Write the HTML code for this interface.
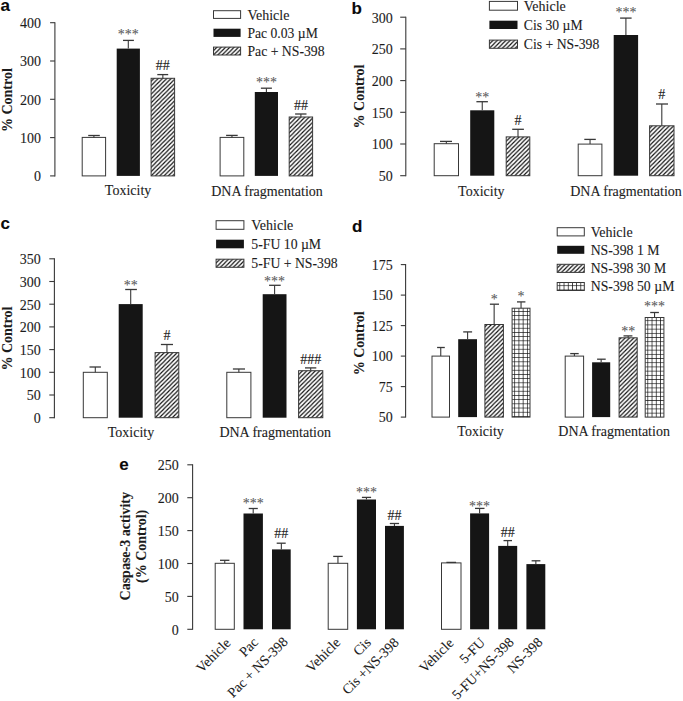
<!DOCTYPE html>
<html><head><meta charset="utf-8"><style>
html,body{margin:0;padding:0;background:#fff;width:683px;height:701px;overflow:hidden;}
svg{display:block;font-family:"Liberation Serif", serif;}
</style></head><body>
<svg width="683" height="701" viewBox="0 0 683 701">
<text x="0.60" y="10.60" font-size="17" text-anchor="start" font-weight="bold" font-family="'Liberation Sans', sans-serif" fill="#0a0a0a" stroke="#0a0a0a" stroke-width="0.1">a</text>
<line x1="54.90" y1="22.20" x2="54.90" y2="176.40" stroke="#383838" stroke-width="1.1"/>
<line x1="50.10" y1="175.90" x2="54.90" y2="175.90" stroke="#383838" stroke-width="1.1"/>
<text x="41.00" y="181.20" font-size="14" text-anchor="end" font-weight="normal" font-family="'Liberation Serif', serif" fill="#1c1c1c" stroke="#1c1c1c" stroke-width="0.1">0</text>
<line x1="50.10" y1="137.60" x2="54.90" y2="137.60" stroke="#383838" stroke-width="1.1"/>
<text x="41.00" y="142.90" font-size="14" text-anchor="end" font-weight="normal" font-family="'Liberation Serif', serif" fill="#1c1c1c" stroke="#1c1c1c" stroke-width="0.1">100</text>
<line x1="50.10" y1="99.30" x2="54.90" y2="99.30" stroke="#383838" stroke-width="1.1"/>
<text x="41.00" y="104.60" font-size="14" text-anchor="end" font-weight="normal" font-family="'Liberation Serif', serif" fill="#1c1c1c" stroke="#1c1c1c" stroke-width="0.1">200</text>
<line x1="50.10" y1="61.00" x2="54.90" y2="61.00" stroke="#383838" stroke-width="1.1"/>
<text x="41.00" y="66.30" font-size="14" text-anchor="end" font-weight="normal" font-family="'Liberation Serif', serif" fill="#1c1c1c" stroke="#1c1c1c" stroke-width="0.1">300</text>
<line x1="50.10" y1="22.70" x2="54.90" y2="22.70" stroke="#383838" stroke-width="1.1"/>
<text x="41.00" y="28.00" font-size="14" text-anchor="end" font-weight="normal" font-family="'Liberation Serif', serif" fill="#1c1c1c" stroke="#1c1c1c" stroke-width="0.1">400</text>
<text transform="translate(11.60,100.10) rotate(-90)" text-anchor="middle" font-size="14" font-weight="bold" font-family="'Liberation Serif', serif" fill="#1c1c1c" stroke="#1c1c1c" stroke-width="0.1">% Control</text>
<rect x="82.20" y="137.40" width="23.40" height="38.50" fill="#fff" stroke="#383838" stroke-width="1.0"/>
<line x1="93.90" y1="137.40" x2="93.90" y2="135.50" stroke="#383838" stroke-width="1.1"/>
<line x1="88.20" y1="135.50" x2="99.80" y2="135.50" stroke="#383838" stroke-width="1.3"/>
<rect x="116.70" y="48.60" width="23.20" height="127.30" fill="#151515"/>
<line x1="128.30" y1="48.60" x2="128.30" y2="40.40" stroke="#383838" stroke-width="1.1"/>
<line x1="123.00" y1="40.40" x2="133.90" y2="40.40" stroke="#383838" stroke-width="1.3"/>
<text x="128.30" y="39.20" font-size="14" text-anchor="middle" font-weight="normal" font-family="'Liberation Serif', serif" fill="#5a5a5a" stroke="#5a5a5a" stroke-width="0.1">***</text>
<defs><pattern id="h1" patternUnits="userSpaceOnUse" x="151.10" y="175.90" width="4.3" height="4.3"><rect width="4.3" height="4.3" fill="#fff"/><path d="M-4.3 4.3L4.3 -4.3M0 4.3L4.3 0M0 8.6L8.6 0" stroke="#0c0c0c" stroke-width="1.15"/></pattern></defs>
<rect x="151.10" y="78.30" width="23.50" height="97.60" fill="url(#h1)" stroke="#383838" stroke-width="1.0"/>
<line x1="162.85" y1="78.30" x2="162.85" y2="74.60" stroke="#383838" stroke-width="1.1"/>
<line x1="157.30" y1="74.60" x2="168.20" y2="74.60" stroke="#383838" stroke-width="1.3"/>
<text x="162.85" y="70.00" font-size="14" text-anchor="middle" font-weight="normal" font-family="'Liberation Serif', serif" fill="#1c1c1c" stroke="#1c1c1c" stroke-width="0.1">##</text>
<rect x="220.10" y="137.40" width="23.70" height="38.50" fill="#fff" stroke="#383838" stroke-width="1.0"/>
<line x1="231.95" y1="137.40" x2="231.95" y2="135.40" stroke="#383838" stroke-width="1.1"/>
<line x1="226.10" y1="135.40" x2="237.70" y2="135.40" stroke="#383838" stroke-width="1.3"/>
<rect x="254.80" y="92.00" width="23.20" height="83.90" fill="#151515"/>
<line x1="266.40" y1="92.00" x2="266.40" y2="88.20" stroke="#383838" stroke-width="1.1"/>
<line x1="260.90" y1="88.20" x2="271.90" y2="88.20" stroke="#383838" stroke-width="1.3"/>
<text x="266.40" y="86.70" font-size="14" text-anchor="middle" font-weight="normal" font-family="'Liberation Serif', serif" fill="#5a5a5a" stroke="#5a5a5a" stroke-width="0.1">***</text>
<defs><pattern id="h2" patternUnits="userSpaceOnUse" x="289.20" y="175.90" width="4.3" height="4.3"><rect width="4.3" height="4.3" fill="#fff"/><path d="M-4.3 4.3L4.3 -4.3M0 4.3L4.3 0M0 8.6L8.6 0" stroke="#0c0c0c" stroke-width="1.15"/></pattern></defs>
<rect x="289.20" y="117.00" width="23.40" height="58.90" fill="url(#h2)" stroke="#383838" stroke-width="1.0"/>
<line x1="300.90" y1="117.00" x2="300.90" y2="114.00" stroke="#383838" stroke-width="1.1"/>
<line x1="295.10" y1="114.00" x2="306.50" y2="114.00" stroke="#383838" stroke-width="1.3"/>
<text x="300.90" y="109.70" font-size="14" text-anchor="middle" font-weight="normal" font-family="'Liberation Serif', serif" fill="#1c1c1c" stroke="#1c1c1c" stroke-width="0.1">##</text>
<text x="128.05" y="195.40" font-size="14" text-anchor="middle" font-weight="normal" font-family="'Liberation Serif', serif" fill="#1c1c1c" stroke="#1c1c1c" stroke-width="0.1">Toxicity</text>
<text x="267.00" y="195.60" font-size="14" text-anchor="middle" font-weight="normal" font-family="'Liberation Serif', serif" fill="#1c1c1c" stroke="#1c1c1c" stroke-width="0.1">DNA fragmentation</text>
<rect x="213.50" y="10.70" width="27.10" height="7.70" fill="#fff" stroke="#383838" stroke-width="1.0"/>
<text x="247.40" y="19.50" font-size="14" text-anchor="start" font-weight="normal" font-family="'Liberation Serif', serif" fill="#1c1c1c" stroke="#1c1c1c" stroke-width="0.1">Vehicle</text>
<rect x="213.50" y="28.70" width="27.10" height="8.20" fill="#151515"/>
<text x="247.40" y="37.90" font-size="14" text-anchor="start" font-weight="normal" font-family="'Liberation Serif', serif" fill="#1c1c1c" stroke="#1c1c1c" stroke-width="0.1" textLength="70.50" lengthAdjust="spacingAndGlyphs">Pac 0.03 µM</text>
<defs><pattern id="h3" patternUnits="userSpaceOnUse" x="213.50" y="55.00" width="4.3" height="4.3"><rect width="4.3" height="4.3" fill="#fff"/><path d="M-4.3 4.3L4.3 -4.3M0 4.3L4.3 0M0 8.6L8.6 0" stroke="#0c0c0c" stroke-width="1.15"/></pattern></defs>
<rect x="213.50" y="47.10" width="27.10" height="7.90" fill="url(#h3)" stroke="#383838" stroke-width="1.0"/>
<text x="247.40" y="56.00" font-size="14" text-anchor="start" font-weight="normal" font-family="'Liberation Serif', serif" fill="#1c1c1c" stroke="#1c1c1c" stroke-width="0.1" textLength="77.20" lengthAdjust="spacingAndGlyphs">Pac + NS-398</text>
<text x="351.40" y="13.60" font-size="17" text-anchor="start" font-weight="bold" font-family="'Liberation Sans', sans-serif" fill="#0a0a0a" stroke="#0a0a0a" stroke-width="0.1">b</text>
<line x1="405.80" y1="16.70" x2="405.80" y2="176.20" stroke="#383838" stroke-width="1.1"/>
<line x1="400.20" y1="175.70" x2="405.80" y2="175.70" stroke="#383838" stroke-width="1.1"/>
<text x="392.80" y="181.00" font-size="14" text-anchor="end" font-weight="normal" font-family="'Liberation Serif', serif" fill="#1c1c1c" stroke="#1c1c1c" stroke-width="0.1">50</text>
<line x1="400.20" y1="144.00" x2="405.80" y2="144.00" stroke="#383838" stroke-width="1.1"/>
<text x="392.80" y="149.30" font-size="14" text-anchor="end" font-weight="normal" font-family="'Liberation Serif', serif" fill="#1c1c1c" stroke="#1c1c1c" stroke-width="0.1">100</text>
<line x1="400.20" y1="112.30" x2="405.80" y2="112.30" stroke="#383838" stroke-width="1.1"/>
<text x="392.80" y="117.60" font-size="14" text-anchor="end" font-weight="normal" font-family="'Liberation Serif', serif" fill="#1c1c1c" stroke="#1c1c1c" stroke-width="0.1">150</text>
<line x1="400.20" y1="80.60" x2="405.80" y2="80.60" stroke="#383838" stroke-width="1.1"/>
<text x="392.80" y="85.90" font-size="14" text-anchor="end" font-weight="normal" font-family="'Liberation Serif', serif" fill="#1c1c1c" stroke="#1c1c1c" stroke-width="0.1">200</text>
<line x1="400.20" y1="48.90" x2="405.80" y2="48.90" stroke="#383838" stroke-width="1.1"/>
<text x="392.80" y="54.20" font-size="14" text-anchor="end" font-weight="normal" font-family="'Liberation Serif', serif" fill="#1c1c1c" stroke="#1c1c1c" stroke-width="0.1">250</text>
<line x1="400.20" y1="17.20" x2="405.80" y2="17.20" stroke="#383838" stroke-width="1.1"/>
<text x="392.80" y="22.50" font-size="14" text-anchor="end" font-weight="normal" font-family="'Liberation Serif', serif" fill="#1c1c1c" stroke="#1c1c1c" stroke-width="0.1">300</text>
<text transform="translate(363.80,96.50) rotate(-90)" text-anchor="middle" font-size="14" font-weight="bold" font-family="'Liberation Serif', serif" fill="#1c1c1c" stroke="#1c1c1c" stroke-width="0.1">% Control</text>
<rect x="434.20" y="143.70" width="24.30" height="32.00" fill="#fff" stroke="#383838" stroke-width="1.0"/>
<line x1="446.35" y1="143.70" x2="446.35" y2="141.40" stroke="#383838" stroke-width="1.1"/>
<line x1="440.00" y1="141.40" x2="452.00" y2="141.40" stroke="#383838" stroke-width="1.3"/>
<rect x="470.20" y="110.30" width="24.10" height="65.40" fill="#151515"/>
<line x1="482.25" y1="110.30" x2="482.25" y2="101.70" stroke="#383838" stroke-width="1.1"/>
<line x1="476.40" y1="101.70" x2="487.90" y2="101.70" stroke="#383838" stroke-width="1.3"/>
<text x="482.25" y="102.30" font-size="14" text-anchor="middle" font-weight="normal" font-family="'Liberation Serif', serif" fill="#5a5a5a" stroke="#5a5a5a" stroke-width="0.1">**</text>
<defs><pattern id="h4" patternUnits="userSpaceOnUse" x="506.20" y="175.70" width="4.3" height="4.3"><rect width="4.3" height="4.3" fill="#fff"/><path d="M-4.3 4.3L4.3 -4.3M0 4.3L4.3 0M0 8.6L8.6 0" stroke="#0c0c0c" stroke-width="1.15"/></pattern></defs>
<rect x="506.20" y="136.90" width="23.60" height="38.80" fill="url(#h4)" stroke="#383838" stroke-width="1.0"/>
<line x1="518.00" y1="136.90" x2="518.00" y2="129.30" stroke="#383838" stroke-width="1.1"/>
<line x1="512.20" y1="129.30" x2="523.90" y2="129.30" stroke="#383838" stroke-width="1.3"/>
<text x="518.00" y="124.60" font-size="14" text-anchor="middle" font-weight="normal" font-family="'Liberation Serif', serif" fill="#1c1c1c" stroke="#1c1c1c" stroke-width="0.1">#</text>
<rect x="578.20" y="144.10" width="23.70" height="31.60" fill="#fff" stroke="#383838" stroke-width="1.0"/>
<line x1="590.05" y1="144.10" x2="590.05" y2="139.40" stroke="#383838" stroke-width="1.1"/>
<line x1="584.30" y1="139.40" x2="595.80" y2="139.40" stroke="#383838" stroke-width="1.3"/>
<rect x="613.70" y="35.00" width="24.40" height="140.70" fill="#151515"/>
<line x1="625.90" y1="35.00" x2="625.90" y2="18.10" stroke="#383838" stroke-width="1.1"/>
<line x1="620.10" y1="18.10" x2="631.60" y2="18.10" stroke="#383838" stroke-width="1.3"/>
<text x="625.90" y="17.20" font-size="14" text-anchor="middle" font-weight="normal" font-family="'Liberation Serif', serif" fill="#5a5a5a" stroke="#5a5a5a" stroke-width="0.1">***</text>
<defs><pattern id="h5" patternUnits="userSpaceOnUse" x="649.60" y="175.70" width="4.3" height="4.3"><rect width="4.3" height="4.3" fill="#fff"/><path d="M-4.3 4.3L4.3 -4.3M0 4.3L4.3 0M0 8.6L8.6 0" stroke="#0c0c0c" stroke-width="1.15"/></pattern></defs>
<rect x="649.60" y="125.80" width="24.40" height="49.90" fill="url(#h5)" stroke="#383838" stroke-width="1.0"/>
<line x1="661.80" y1="125.80" x2="661.80" y2="104.00" stroke="#383838" stroke-width="1.1"/>
<line x1="656.00" y1="104.00" x2="668.00" y2="104.00" stroke="#383838" stroke-width="1.3"/>
<text x="661.80" y="99.00" font-size="14" text-anchor="middle" font-weight="normal" font-family="'Liberation Serif', serif" fill="#1c1c1c" stroke="#1c1c1c" stroke-width="0.1">#</text>
<text x="481.35" y="195.60" font-size="14" text-anchor="middle" font-weight="normal" font-family="'Liberation Serif', serif" fill="#1c1c1c" stroke="#1c1c1c" stroke-width="0.1">Toxicity</text>
<text x="626.00" y="195.50" font-size="14" text-anchor="middle" font-weight="normal" font-family="'Liberation Serif', serif" fill="#1c1c1c" stroke="#1c1c1c" stroke-width="0.1">DNA fragmentation</text>
<rect x="489.40" y="1.40" width="28.10" height="8.80" fill="#fff" stroke="#383838" stroke-width="1.0"/>
<text x="523.80" y="10.50" font-size="14" text-anchor="start" font-weight="normal" font-family="'Liberation Serif', serif" fill="#1c1c1c" stroke="#1c1c1c" stroke-width="0.1">Vehicle</text>
<rect x="489.40" y="20.70" width="28.10" height="8.30" fill="#151515"/>
<text x="523.80" y="30.20" font-size="14" text-anchor="start" font-weight="normal" font-family="'Liberation Serif', serif" fill="#1c1c1c" stroke="#1c1c1c" stroke-width="0.1" textLength="58.80" lengthAdjust="spacingAndGlyphs">Cis 30 µM</text>
<defs><pattern id="h6" patternUnits="userSpaceOnUse" x="489.40" y="48.30" width="4.3" height="4.3"><rect width="4.3" height="4.3" fill="#fff"/><path d="M-4.3 4.3L4.3 -4.3M0 4.3L4.3 0M0 8.6L8.6 0" stroke="#0c0c0c" stroke-width="1.15"/></pattern></defs>
<rect x="489.40" y="40.10" width="28.10" height="8.20" fill="url(#h6)" stroke="#383838" stroke-width="1.0"/>
<text x="523.80" y="48.90" font-size="14" text-anchor="start" font-weight="normal" font-family="'Liberation Serif', serif" fill="#1c1c1c" stroke="#1c1c1c" stroke-width="0.1" textLength="75.50" lengthAdjust="spacingAndGlyphs">Cis + NS-398</text>
<text x="0.40" y="229.00" font-size="17" text-anchor="start" font-weight="bold" font-family="'Liberation Sans', sans-serif" fill="#0a0a0a" stroke="#0a0a0a" stroke-width="0.1">c</text>
<line x1="54.40" y1="258.30" x2="54.40" y2="418.20" stroke="#383838" stroke-width="1.1"/>
<line x1="49.30" y1="417.70" x2="54.40" y2="417.70" stroke="#383838" stroke-width="1.1"/>
<text x="40.80" y="423.00" font-size="14" text-anchor="end" font-weight="normal" font-family="'Liberation Serif', serif" fill="#1c1c1c" stroke="#1c1c1c" stroke-width="0.1">0</text>
<line x1="49.30" y1="395.00" x2="54.40" y2="395.00" stroke="#383838" stroke-width="1.1"/>
<text x="40.80" y="400.30" font-size="14" text-anchor="end" font-weight="normal" font-family="'Liberation Serif', serif" fill="#1c1c1c" stroke="#1c1c1c" stroke-width="0.1">50</text>
<line x1="49.30" y1="372.30" x2="54.40" y2="372.30" stroke="#383838" stroke-width="1.1"/>
<text x="40.80" y="377.60" font-size="14" text-anchor="end" font-weight="normal" font-family="'Liberation Serif', serif" fill="#1c1c1c" stroke="#1c1c1c" stroke-width="0.1">100</text>
<line x1="49.30" y1="349.60" x2="54.40" y2="349.60" stroke="#383838" stroke-width="1.1"/>
<text x="40.80" y="354.90" font-size="14" text-anchor="end" font-weight="normal" font-family="'Liberation Serif', serif" fill="#1c1c1c" stroke="#1c1c1c" stroke-width="0.1">150</text>
<line x1="49.30" y1="326.90" x2="54.40" y2="326.90" stroke="#383838" stroke-width="1.1"/>
<text x="40.80" y="332.20" font-size="14" text-anchor="end" font-weight="normal" font-family="'Liberation Serif', serif" fill="#1c1c1c" stroke="#1c1c1c" stroke-width="0.1">200</text>
<line x1="49.30" y1="304.20" x2="54.40" y2="304.20" stroke="#383838" stroke-width="1.1"/>
<text x="40.80" y="309.50" font-size="14" text-anchor="end" font-weight="normal" font-family="'Liberation Serif', serif" fill="#1c1c1c" stroke="#1c1c1c" stroke-width="0.1">250</text>
<line x1="49.30" y1="281.50" x2="54.40" y2="281.50" stroke="#383838" stroke-width="1.1"/>
<text x="40.80" y="286.80" font-size="14" text-anchor="end" font-weight="normal" font-family="'Liberation Serif', serif" fill="#1c1c1c" stroke="#1c1c1c" stroke-width="0.1">300</text>
<line x1="49.30" y1="258.80" x2="54.40" y2="258.80" stroke="#383838" stroke-width="1.1"/>
<text x="40.80" y="264.10" font-size="14" text-anchor="end" font-weight="normal" font-family="'Liberation Serif', serif" fill="#1c1c1c" stroke="#1c1c1c" stroke-width="0.1">350</text>
<text transform="translate(11.60,338.60) rotate(-90)" text-anchor="middle" font-size="14" font-weight="bold" font-family="'Liberation Serif', serif" fill="#1c1c1c" stroke="#1c1c1c" stroke-width="0.1">% Control</text>
<rect x="83.30" y="372.30" width="24.00" height="45.40" fill="#fff" stroke="#383838" stroke-width="1.0"/>
<line x1="95.30" y1="372.30" x2="95.30" y2="367.00" stroke="#383838" stroke-width="1.1"/>
<line x1="89.50" y1="367.00" x2="100.90" y2="367.00" stroke="#383838" stroke-width="1.3"/>
<rect x="118.70" y="304.10" width="24.00" height="113.60" fill="#151515"/>
<line x1="130.70" y1="304.10" x2="130.70" y2="289.50" stroke="#383838" stroke-width="1.1"/>
<line x1="125.20" y1="289.50" x2="136.90" y2="289.50" stroke="#383838" stroke-width="1.3"/>
<text x="130.70" y="290.30" font-size="14" text-anchor="middle" font-weight="normal" font-family="'Liberation Serif', serif" fill="#5a5a5a" stroke="#5a5a5a" stroke-width="0.1">**</text>
<defs><pattern id="h7" patternUnits="userSpaceOnUse" x="155.10" y="417.70" width="4.3" height="4.3"><rect width="4.3" height="4.3" fill="#fff"/><path d="M-4.3 4.3L4.3 -4.3M0 4.3L4.3 0M0 8.6L8.6 0" stroke="#0c0c0c" stroke-width="1.15"/></pattern></defs>
<rect x="155.10" y="352.60" width="23.70" height="65.10" fill="url(#h7)" stroke="#383838" stroke-width="1.0"/>
<line x1="166.95" y1="352.60" x2="166.95" y2="344.50" stroke="#383838" stroke-width="1.1"/>
<line x1="160.90" y1="344.50" x2="173.00" y2="344.50" stroke="#383838" stroke-width="1.3"/>
<text x="166.95" y="339.80" font-size="14" text-anchor="middle" font-weight="normal" font-family="'Liberation Serif', serif" fill="#1c1c1c" stroke="#1c1c1c" stroke-width="0.1">#</text>
<rect x="226.80" y="372.30" width="24.10" height="45.40" fill="#fff" stroke="#383838" stroke-width="1.0"/>
<line x1="238.85" y1="372.30" x2="238.85" y2="369.00" stroke="#383838" stroke-width="1.1"/>
<line x1="232.90" y1="369.00" x2="245.00" y2="369.00" stroke="#383838" stroke-width="1.3"/>
<rect x="262.70" y="294.20" width="23.80" height="123.50" fill="#151515"/>
<line x1="274.60" y1="294.20" x2="274.60" y2="285.30" stroke="#383838" stroke-width="1.1"/>
<line x1="269.10" y1="285.30" x2="280.70" y2="285.30" stroke="#383838" stroke-width="1.3"/>
<text x="274.60" y="285.50" font-size="14" text-anchor="middle" font-weight="normal" font-family="'Liberation Serif', serif" fill="#5a5a5a" stroke="#5a5a5a" stroke-width="0.1">***</text>
<defs><pattern id="h8" patternUnits="userSpaceOnUse" x="298.60" y="417.70" width="4.3" height="4.3"><rect width="4.3" height="4.3" fill="#fff"/><path d="M-4.3 4.3L4.3 -4.3M0 4.3L4.3 0M0 8.6L8.6 0" stroke="#0c0c0c" stroke-width="1.15"/></pattern></defs>
<rect x="298.60" y="370.70" width="24.20" height="47.00" fill="url(#h8)" stroke="#383838" stroke-width="1.0"/>
<line x1="310.70" y1="370.70" x2="310.70" y2="367.90" stroke="#383838" stroke-width="1.1"/>
<line x1="305.00" y1="367.90" x2="316.30" y2="367.90" stroke="#383838" stroke-width="1.3"/>
<text x="310.70" y="363.50" font-size="14" text-anchor="middle" font-weight="normal" font-family="'Liberation Serif', serif" fill="#1c1c1c" stroke="#1c1c1c" stroke-width="0.1">###</text>
<text x="131.00" y="436.50" font-size="14" text-anchor="middle" font-weight="normal" font-family="'Liberation Serif', serif" fill="#1c1c1c" stroke="#1c1c1c" stroke-width="0.1">Toxicity</text>
<text x="275.20" y="436.50" font-size="14" text-anchor="middle" font-weight="normal" font-family="'Liberation Serif', serif" fill="#1c1c1c" stroke="#1c1c1c" stroke-width="0.1">DNA fragmentation</text>
<rect x="216.10" y="220.70" width="27.80" height="8.60" fill="#fff" stroke="#383838" stroke-width="1.0"/>
<text x="251.30" y="229.80" font-size="14" text-anchor="start" font-weight="normal" font-family="'Liberation Serif', serif" fill="#1c1c1c" stroke="#1c1c1c" stroke-width="0.1">Vehicle</text>
<rect x="216.10" y="239.70" width="27.80" height="8.60" fill="#151515"/>
<text x="251.30" y="249.30" font-size="14" text-anchor="start" font-weight="normal" font-family="'Liberation Serif', serif" fill="#1c1c1c" stroke="#1c1c1c" stroke-width="0.1" textLength="69.80" lengthAdjust="spacingAndGlyphs">5-FU 10 µM</text>
<defs><pattern id="h9" patternUnits="userSpaceOnUse" x="216.10" y="267.30" width="4.3" height="4.3"><rect width="4.3" height="4.3" fill="#fff"/><path d="M-4.3 4.3L4.3 -4.3M0 4.3L4.3 0M0 8.6L8.6 0" stroke="#0c0c0c" stroke-width="1.15"/></pattern></defs>
<rect x="216.10" y="259.20" width="27.80" height="8.10" fill="url(#h9)" stroke="#383838" stroke-width="1.0"/>
<text x="251.30" y="268.30" font-size="14" text-anchor="start" font-weight="normal" font-family="'Liberation Serif', serif" fill="#1c1c1c" stroke="#1c1c1c" stroke-width="0.1" textLength="86.40" lengthAdjust="spacingAndGlyphs">5-FU + NS-398</text>
<text x="352.00" y="232.10" font-size="17" text-anchor="start" font-weight="bold" font-family="'Liberation Sans', sans-serif" fill="#0a0a0a" stroke="#0a0a0a" stroke-width="0.1">d</text>
<line x1="405.60" y1="264.10" x2="405.60" y2="417.60" stroke="#383838" stroke-width="1.1"/>
<line x1="400.80" y1="417.10" x2="405.60" y2="417.10" stroke="#383838" stroke-width="1.1"/>
<text x="392.80" y="422.40" font-size="14" text-anchor="end" font-weight="normal" font-family="'Liberation Serif', serif" fill="#1c1c1c" stroke="#1c1c1c" stroke-width="0.1">50</text>
<line x1="400.80" y1="386.60" x2="405.60" y2="386.60" stroke="#383838" stroke-width="1.1"/>
<text x="392.80" y="391.90" font-size="14" text-anchor="end" font-weight="normal" font-family="'Liberation Serif', serif" fill="#1c1c1c" stroke="#1c1c1c" stroke-width="0.1">75</text>
<line x1="400.80" y1="356.10" x2="405.60" y2="356.10" stroke="#383838" stroke-width="1.1"/>
<text x="392.80" y="361.40" font-size="14" text-anchor="end" font-weight="normal" font-family="'Liberation Serif', serif" fill="#1c1c1c" stroke="#1c1c1c" stroke-width="0.1">100</text>
<line x1="400.80" y1="325.60" x2="405.60" y2="325.60" stroke="#383838" stroke-width="1.1"/>
<text x="392.80" y="330.90" font-size="14" text-anchor="end" font-weight="normal" font-family="'Liberation Serif', serif" fill="#1c1c1c" stroke="#1c1c1c" stroke-width="0.1">125</text>
<line x1="400.80" y1="295.10" x2="405.60" y2="295.10" stroke="#383838" stroke-width="1.1"/>
<text x="392.80" y="300.40" font-size="14" text-anchor="end" font-weight="normal" font-family="'Liberation Serif', serif" fill="#1c1c1c" stroke="#1c1c1c" stroke-width="0.1">150</text>
<line x1="400.80" y1="264.60" x2="405.60" y2="264.60" stroke="#383838" stroke-width="1.1"/>
<text x="392.80" y="269.90" font-size="14" text-anchor="end" font-weight="normal" font-family="'Liberation Serif', serif" fill="#1c1c1c" stroke="#1c1c1c" stroke-width="0.1">175</text>
<text transform="translate(364.20,343.40) rotate(-90)" text-anchor="middle" font-size="14" font-weight="bold" font-family="'Liberation Serif', serif" fill="#1c1c1c" stroke="#1c1c1c" stroke-width="0.1">% Control</text>
<rect x="432.00" y="356.10" width="17.50" height="61.00" fill="#fff" stroke="#383838" stroke-width="1.0"/>
<line x1="440.75" y1="356.10" x2="440.75" y2="347.50" stroke="#383838" stroke-width="1.1"/>
<line x1="437.10" y1="347.50" x2="444.80" y2="347.50" stroke="#383838" stroke-width="1.3"/>
<rect x="458.20" y="339.20" width="18.80" height="77.90" fill="#151515"/>
<line x1="467.60" y1="339.20" x2="467.60" y2="331.90" stroke="#383838" stroke-width="1.1"/>
<line x1="463.20" y1="331.90" x2="472.10" y2="331.90" stroke="#383838" stroke-width="1.3"/>
<defs><pattern id="h10" patternUnits="userSpaceOnUse" x="484.90" y="417.10" width="4.3" height="4.3"><rect width="4.3" height="4.3" fill="#fff"/><path d="M-4.3 4.3L4.3 -4.3M0 4.3L4.3 0M0 8.6L8.6 0" stroke="#0c0c0c" stroke-width="1.15"/></pattern></defs>
<rect x="484.90" y="324.50" width="18.50" height="92.60" fill="url(#h10)" stroke="#383838" stroke-width="1.0"/>
<line x1="494.15" y1="324.50" x2="494.15" y2="304.20" stroke="#383838" stroke-width="1.1"/>
<line x1="489.90" y1="304.20" x2="499.00" y2="304.20" stroke="#383838" stroke-width="1.3"/>
<text x="494.15" y="304.00" font-size="14" text-anchor="middle" font-weight="normal" font-family="'Liberation Serif', serif" fill="#5a5a5a" stroke="#5a5a5a" stroke-width="0.1">*</text>
<defs><pattern id="g11" patternUnits="userSpaceOnUse" x="514.30" y="311.00" width="4.2" height="4.2"><rect width="4.2" height="4.2" fill="#fff"/><path d="M0 0H4.2M0 0V4.2" stroke="#0c0c0c" stroke-width="1.4" fill="none"/></pattern></defs>
<rect x="512.10" y="308.20" width="17.90" height="108.90" fill="url(#g11)" stroke="#383838" stroke-width="1.0"/>
<line x1="521.05" y1="308.20" x2="521.05" y2="301.90" stroke="#383838" stroke-width="1.1"/>
<line x1="517.00" y1="301.90" x2="525.40" y2="301.90" stroke="#383838" stroke-width="1.3"/>
<text x="521.05" y="301.40" font-size="14" text-anchor="middle" font-weight="normal" font-family="'Liberation Serif', serif" fill="#5a5a5a" stroke="#5a5a5a" stroke-width="0.1">*</text>
<rect x="565.20" y="356.10" width="18.40" height="61.00" fill="#fff" stroke="#383838" stroke-width="1.0"/>
<line x1="574.40" y1="356.10" x2="574.40" y2="353.60" stroke="#383838" stroke-width="1.1"/>
<line x1="570.20" y1="353.60" x2="578.70" y2="353.60" stroke="#383838" stroke-width="1.3"/>
<rect x="592.10" y="362.30" width="18.10" height="54.80" fill="#151515"/>
<line x1="601.15" y1="362.30" x2="601.15" y2="359.20" stroke="#383838" stroke-width="1.1"/>
<line x1="597.10" y1="359.20" x2="605.70" y2="359.20" stroke="#383838" stroke-width="1.3"/>
<defs><pattern id="h12" patternUnits="userSpaceOnUse" x="619.10" y="417.10" width="4.3" height="4.3"><rect width="4.3" height="4.3" fill="#fff"/><path d="M-4.3 4.3L4.3 -4.3M0 4.3L4.3 0M0 8.6L8.6 0" stroke="#0c0c0c" stroke-width="1.15"/></pattern></defs>
<rect x="619.10" y="337.80" width="18.10" height="79.30" fill="url(#h12)" stroke="#383838" stroke-width="1.0"/>
<line x1="628.15" y1="337.80" x2="628.15" y2="335.90" stroke="#383838" stroke-width="1.1"/>
<line x1="623.50" y1="335.90" x2="632.40" y2="335.90" stroke="#383838" stroke-width="1.3"/>
<text x="628.15" y="335.80" font-size="14" text-anchor="middle" font-weight="normal" font-family="'Liberation Serif', serif" fill="#5a5a5a" stroke="#5a5a5a" stroke-width="0.1">**</text>
<defs><pattern id="g13" patternUnits="userSpaceOnUse" x="647.40" y="320.30" width="4.2" height="4.2"><rect width="4.2" height="4.2" fill="#fff"/><path d="M0 0H4.2M0 0V4.2" stroke="#0c0c0c" stroke-width="1.4" fill="none"/></pattern></defs>
<rect x="645.20" y="317.50" width="18.70" height="99.60" fill="url(#g13)" stroke="#383838" stroke-width="1.0"/>
<line x1="654.55" y1="317.50" x2="654.55" y2="312.50" stroke="#383838" stroke-width="1.1"/>
<line x1="650.20" y1="312.50" x2="658.90" y2="312.50" stroke="#383838" stroke-width="1.3"/>
<text x="654.55" y="311.40" font-size="14" text-anchor="middle" font-weight="normal" font-family="'Liberation Serif', serif" fill="#5a5a5a" stroke="#5a5a5a" stroke-width="0.1">***</text>
<text x="480.60" y="436.30" font-size="14" text-anchor="middle" font-weight="normal" font-family="'Liberation Serif', serif" fill="#1c1c1c" stroke="#1c1c1c" stroke-width="0.1">Toxicity</text>
<text x="614.10" y="436.30" font-size="14" text-anchor="middle" font-weight="normal" font-family="'Liberation Serif', serif" fill="#1c1c1c" stroke="#1c1c1c" stroke-width="0.1">DNA fragmentation</text>
<rect x="557.20" y="227.70" width="27.10" height="8.20" fill="#fff" stroke="#383838" stroke-width="1.0"/>
<text x="590.70" y="236.80" font-size="14" text-anchor="start" font-weight="normal" font-family="'Liberation Serif', serif" fill="#1c1c1c" stroke="#1c1c1c" stroke-width="0.1">Vehicle</text>
<rect x="557.20" y="245.80" width="27.10" height="8.00" fill="#151515"/>
<text x="590.70" y="254.70" font-size="14" text-anchor="start" font-weight="normal" font-family="'Liberation Serif', serif" fill="#1c1c1c" stroke="#1c1c1c" stroke-width="0.1" textLength="68.80" lengthAdjust="spacingAndGlyphs">NS-398 1 M</text>
<defs><pattern id="h14" patternUnits="userSpaceOnUse" x="557.20" y="272.40" width="4.3" height="4.3"><rect width="4.3" height="4.3" fill="#fff"/><path d="M-4.3 4.3L4.3 -4.3M0 4.3L4.3 0M0 8.6L8.6 0" stroke="#0c0c0c" stroke-width="1.15"/></pattern></defs>
<rect x="557.20" y="264.30" width="27.10" height="8.10" fill="url(#h14)" stroke="#383838" stroke-width="1.0"/>
<text x="590.70" y="273.00" font-size="14" text-anchor="start" font-weight="normal" font-family="'Liberation Serif', serif" fill="#1c1c1c" stroke="#1c1c1c" stroke-width="0.1" textLength="75.40" lengthAdjust="spacingAndGlyphs">NS-398 30 M</text>
<defs><pattern id="g15" patternUnits="userSpaceOnUse" x="559.40" y="285.30" width="4.2" height="4.2"><rect width="4.2" height="4.2" fill="#fff"/><path d="M0 0H4.2M0 0V4.2" stroke="#0c0c0c" stroke-width="1.4" fill="none"/></pattern></defs>
<rect x="557.20" y="282.50" width="27.10" height="8.00" fill="url(#g15)" stroke="#383838" stroke-width="1.0"/>
<text x="590.70" y="290.90" font-size="14" text-anchor="start" font-weight="normal" font-family="'Liberation Serif', serif" fill="#1c1c1c" stroke="#1c1c1c" stroke-width="0.1" textLength="83.70" lengthAdjust="spacingAndGlyphs">NS-398 50 µM</text>
<text x="119.20" y="469.50" font-size="17" text-anchor="start" font-weight="bold" font-family="'Liberation Sans', sans-serif" fill="#0a0a0a" stroke="#0a0a0a" stroke-width="0.1">e</text>
<line x1="192.60" y1="464.30" x2="192.60" y2="629.80" stroke="#383838" stroke-width="1.1"/>
<line x1="187.30" y1="629.30" x2="192.60" y2="629.30" stroke="#383838" stroke-width="1.1"/>
<text x="178.80" y="634.60" font-size="14" text-anchor="end" font-weight="normal" font-family="'Liberation Serif', serif" fill="#1c1c1c" stroke="#1c1c1c" stroke-width="0.1">0</text>
<line x1="187.30" y1="596.40" x2="192.60" y2="596.40" stroke="#383838" stroke-width="1.1"/>
<text x="178.80" y="601.70" font-size="14" text-anchor="end" font-weight="normal" font-family="'Liberation Serif', serif" fill="#1c1c1c" stroke="#1c1c1c" stroke-width="0.1">50</text>
<line x1="187.30" y1="563.50" x2="192.60" y2="563.50" stroke="#383838" stroke-width="1.1"/>
<text x="178.80" y="568.80" font-size="14" text-anchor="end" font-weight="normal" font-family="'Liberation Serif', serif" fill="#1c1c1c" stroke="#1c1c1c" stroke-width="0.1">100</text>
<line x1="187.30" y1="530.60" x2="192.60" y2="530.60" stroke="#383838" stroke-width="1.1"/>
<text x="178.80" y="535.90" font-size="14" text-anchor="end" font-weight="normal" font-family="'Liberation Serif', serif" fill="#1c1c1c" stroke="#1c1c1c" stroke-width="0.1">150</text>
<line x1="187.30" y1="497.70" x2="192.60" y2="497.70" stroke="#383838" stroke-width="1.1"/>
<text x="178.80" y="503.00" font-size="14" text-anchor="end" font-weight="normal" font-family="'Liberation Serif', serif" fill="#1c1c1c" stroke="#1c1c1c" stroke-width="0.1">200</text>
<line x1="187.30" y1="464.80" x2="192.60" y2="464.80" stroke="#383838" stroke-width="1.1"/>
<text x="178.80" y="470.10" font-size="14" text-anchor="end" font-weight="normal" font-family="'Liberation Serif', serif" fill="#1c1c1c" stroke="#1c1c1c" stroke-width="0.1">250</text>
<text transform="translate(129.90,546.20) rotate(-90)" text-anchor="middle" font-size="14" font-weight="bold" font-family="'Liberation Serif', serif" fill="#1c1c1c" stroke="#1c1c1c" stroke-width="0.1">Caspase-3 activity</text>
<text transform="translate(145.60,546.40) rotate(-90)" text-anchor="middle" font-size="14" font-weight="bold" font-family="'Liberation Serif', serif" fill="#1c1c1c" stroke="#1c1c1c" stroke-width="0.1">(% Control)</text>
<rect x="215.20" y="563.30" width="19.10" height="66.00" fill="#fff" stroke="#383838" stroke-width="1.0"/>
<line x1="224.75" y1="563.30" x2="224.75" y2="560.30" stroke="#383838" stroke-width="1.1"/>
<line x1="220.00" y1="560.30" x2="229.40" y2="560.30" stroke="#383838" stroke-width="1.3"/>
<rect x="243.50" y="513.50" width="19.40" height="115.80" fill="#151515"/>
<line x1="253.20" y1="513.50" x2="253.20" y2="508.50" stroke="#383838" stroke-width="1.1"/>
<line x1="248.70" y1="508.50" x2="257.80" y2="508.50" stroke="#383838" stroke-width="1.3"/>
<text x="253.20" y="508.20" font-size="14" text-anchor="middle" font-weight="normal" font-family="'Liberation Serif', serif" fill="#5a5a5a" stroke="#5a5a5a" stroke-width="0.1">***</text>
<rect x="272.00" y="549.40" width="18.70" height="79.90" fill="#151515"/>
<line x1="281.35" y1="549.40" x2="281.35" y2="543.20" stroke="#383838" stroke-width="1.1"/>
<line x1="276.70" y1="543.20" x2="285.70" y2="543.20" stroke="#383838" stroke-width="1.3"/>
<text x="281.35" y="537.70" font-size="14" text-anchor="middle" font-weight="normal" font-family="'Liberation Serif', serif" fill="#1c1c1c" stroke="#1c1c1c" stroke-width="0.1">##</text>
<rect x="328.20" y="563.30" width="19.50" height="66.00" fill="#fff" stroke="#383838" stroke-width="1.0"/>
<line x1="337.95" y1="563.30" x2="337.95" y2="556.40" stroke="#383838" stroke-width="1.1"/>
<line x1="333.20" y1="556.40" x2="342.70" y2="556.40" stroke="#383838" stroke-width="1.3"/>
<rect x="356.90" y="499.50" width="19.10" height="129.80" fill="#151515"/>
<line x1="366.45" y1="499.50" x2="366.45" y2="497.40" stroke="#383838" stroke-width="1.1"/>
<line x1="361.90" y1="497.40" x2="371.10" y2="497.40" stroke="#383838" stroke-width="1.3"/>
<text x="366.45" y="497.30" font-size="14" text-anchor="middle" font-weight="normal" font-family="'Liberation Serif', serif" fill="#5a5a5a" stroke="#5a5a5a" stroke-width="0.1">***</text>
<rect x="385.00" y="525.90" width="18.90" height="103.40" fill="#151515"/>
<line x1="394.45" y1="525.90" x2="394.45" y2="523.50" stroke="#383838" stroke-width="1.1"/>
<line x1="389.80" y1="523.50" x2="399.10" y2="523.50" stroke="#383838" stroke-width="1.3"/>
<text x="394.45" y="519.50" font-size="14" text-anchor="middle" font-weight="normal" font-family="'Liberation Serif', serif" fill="#1c1c1c" stroke="#1c1c1c" stroke-width="0.1">##</text>
<rect x="441.50" y="562.90" width="19.50" height="66.40" fill="#fff" stroke="#383838" stroke-width="1.0"/>
<line x1="451.25" y1="562.90" x2="451.25" y2="562.40" stroke="#383838" stroke-width="1.1"/>
<line x1="446.40" y1="562.40" x2="456.10" y2="562.40" stroke="#383838" stroke-width="1.3"/>
<rect x="470.10" y="513.40" width="19.00" height="115.90" fill="#151515"/>
<line x1="479.60" y1="513.40" x2="479.60" y2="508.40" stroke="#383838" stroke-width="1.1"/>
<line x1="475.00" y1="508.40" x2="484.50" y2="508.40" stroke="#383838" stroke-width="1.3"/>
<text x="479.60" y="510.80" font-size="14" text-anchor="middle" font-weight="normal" font-family="'Liberation Serif', serif" fill="#5a5a5a" stroke="#5a5a5a" stroke-width="0.1">***</text>
<rect x="498.20" y="545.90" width="19.00" height="83.40" fill="#151515"/>
<line x1="507.70" y1="545.90" x2="507.70" y2="540.60" stroke="#383838" stroke-width="1.1"/>
<line x1="503.50" y1="540.60" x2="512.00" y2="540.60" stroke="#383838" stroke-width="1.3"/>
<text x="507.70" y="536.60" font-size="14" text-anchor="middle" font-weight="normal" font-family="'Liberation Serif', serif" fill="#1c1c1c" stroke="#1c1c1c" stroke-width="0.1">##</text>
<rect x="526.40" y="564.10" width="18.90" height="65.20" fill="#151515"/>
<line x1="535.85" y1="564.10" x2="535.85" y2="560.80" stroke="#383838" stroke-width="1.1"/>
<line x1="531.60" y1="560.80" x2="540.40" y2="560.80" stroke="#383838" stroke-width="1.3"/>
<text transform="translate(231.35,643.75) rotate(-45)" text-anchor="end" font-size="14" font-family="'Liberation Serif', serif" fill="#1c1c1c" stroke="#1c1c1c" stroke-width="0.1">Vehicle</text>
<text transform="translate(258.95,643.20) rotate(-45)" text-anchor="end" font-size="14" font-family="'Liberation Serif', serif" fill="#1c1c1c" stroke="#1c1c1c" stroke-width="0.1">Pac</text>
<text transform="translate(288.65,642.65) rotate(-45)" text-anchor="end" font-size="14" font-family="'Liberation Serif', serif" fill="#1c1c1c" stroke="#1c1c1c" stroke-width="0.1">Pac + NS-398</text>
<text transform="translate(341.20,643.45) rotate(-45)" text-anchor="end" font-size="14" font-family="'Liberation Serif', serif" fill="#1c1c1c" stroke="#1c1c1c" stroke-width="0.1">Vehicle</text>
<text transform="translate(371.95,643.35) rotate(-45)" text-anchor="end" font-size="14" font-family="'Liberation Serif', serif" fill="#1c1c1c" stroke="#1c1c1c" stroke-width="0.1">Cis</text>
<text transform="translate(399.70,643.30) rotate(-45)" text-anchor="end" font-size="14" font-family="'Liberation Serif', serif" fill="#1c1c1c" stroke="#1c1c1c" stroke-width="0.1">Cis +NS-398</text>
<text transform="translate(454.35,643.90) rotate(-45)" text-anchor="end" font-size="14" font-family="'Liberation Serif', serif" fill="#1c1c1c" stroke="#1c1c1c" stroke-width="0.1">Vehicle</text>
<text transform="translate(485.95,643.40) rotate(-45)" text-anchor="end" font-size="14" font-family="'Liberation Serif', serif" fill="#1c1c1c" stroke="#1c1c1c" stroke-width="0.1">5-FU</text>
<text transform="translate(514.70,642.95) rotate(-45)" text-anchor="end" font-size="14" font-family="'Liberation Serif', serif" fill="#1c1c1c" stroke="#1c1c1c" stroke-width="0.1">5-FU+NS-398</text>
<text transform="translate(543.45,643.10) rotate(-45)" text-anchor="end" font-size="14" font-family="'Liberation Serif', serif" fill="#1c1c1c" stroke="#1c1c1c" stroke-width="0.1">NS-398</text>
</svg>
</body></html>
